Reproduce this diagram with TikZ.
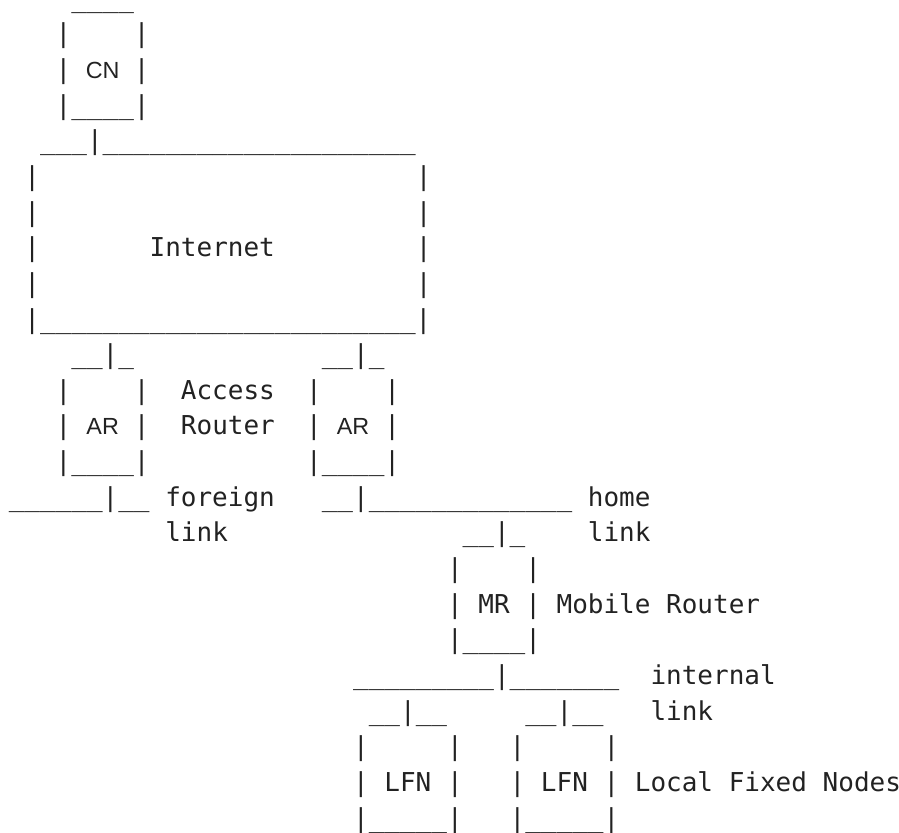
\documentclass[tikz,border=0pt]{standalone}
\usepackage{fontspec}
\newfontfamily\asciifont{DejaVu Sans Mono}
\newfontfamily\tagfont{Liberation Sans}
\definecolor{ink}{RGB}{34,34,34}
% a two-cell wide label set in a sans face, centred in its cells
\newcommand\tagtext[1]{\makebox[1.204em][c]{\fontsize{17.5}{20}\tagfont #1}}
\tikzset{
  asc/.style={font=\fontsize{19.5}{24}\asciifont, text=ink, inner sep=0pt, anchor=base west}
}
% one line of the ASCII drawing: row number, content
\newcommand\asciirow[2]{\node[asc] (row#1) at (8.5,{7.15+(#1-1)*35.65}) {#2};}
\begin{document}
\begin{tikzpicture}[x=0.75pt,y=-0.75pt]
\useasboundingbox (0,0) rectangle (899,832);
\asciirow{1}{~~~~\_\_\_\_}
\asciirow{2}{~~~|~~~~|}
\asciirow{3}{~~~|~\tagtext{CN}~|}
\asciirow{4}{~~~|\_\_\_\_|}
\asciirow{5}{~~\_\_\_|\_\_\_\_\_\_\_\_\_\_\_\_\_\_\_\_\_\_\_\_}
\asciirow{6}{~|~~~~~~~~~~~~~~~~~~~~~~~~|}
\asciirow{7}{~|~~~~~~~~~~~~~~~~~~~~~~~~|}
\asciirow{8}{~|~~~~~~~Internet~~~~~~~~~|}
\asciirow{9}{~|~~~~~~~~~~~~~~~~~~~~~~~~|}
\asciirow{10}{~|\_\_\_\_\_\_\_\_\_\_\_\_\_\_\_\_\_\_\_\_\_\_\_\_|}
\asciirow{11}{~~~~\_\_|\_~~~~~~~~~~~~\_\_|\_}
\asciirow{12}{~~~|~~~~|~~Access~~|~~~~|}
\asciirow{13}{~~~|~\tagtext{AR}~|~~Router~~|~\tagtext{AR}~|}
\asciirow{14}{~~~|\_\_\_\_|~~~~~~~~~~|\_\_\_\_|}
\asciirow{15}{\_\_\_\_\_\_|\_\_~foreign~~~\_\_|\_\_\_\_\_\_\_\_\_\_\_\_\_~home}
\asciirow{16}{~~~~~~~~~~link~~~~~~~~~~~~~~~\_\_|\_~~~~link}
\asciirow{17}{~~~~~~~~~~~~~~~~~~~~~~~~~~~~|~~~~|}
\asciirow{18}{~~~~~~~~~~~~~~~~~~~~~~~~~~~~|~MR~|~Mobile~Router}
\asciirow{19}{~~~~~~~~~~~~~~~~~~~~~~~~~~~~|\_\_\_\_|}
\asciirow{20}{~~~~~~~~~~~~~~~~~~~~~~\_\_\_\_\_\_\_\_\_|\_\_\_\_\_\_\_~~internal}
\asciirow{21}{~~~~~~~~~~~~~~~~~~~~~~~\_\_|\_\_~~~~~\_\_|\_\_~~~link}
\asciirow{22}{~~~~~~~~~~~~~~~~~~~~~~|~~~~~|~~~|~~~~~|}
\asciirow{23}{~~~~~~~~~~~~~~~~~~~~~~|~LFN~|~~~|~LFN~|~Local~Fixed~Nodes}
\asciirow{24}{~~~~~~~~~~~~~~~~~~~~~~|\_\_\_\_\_|~~~|\_\_\_\_\_|}
\end{tikzpicture}
\end{document}
